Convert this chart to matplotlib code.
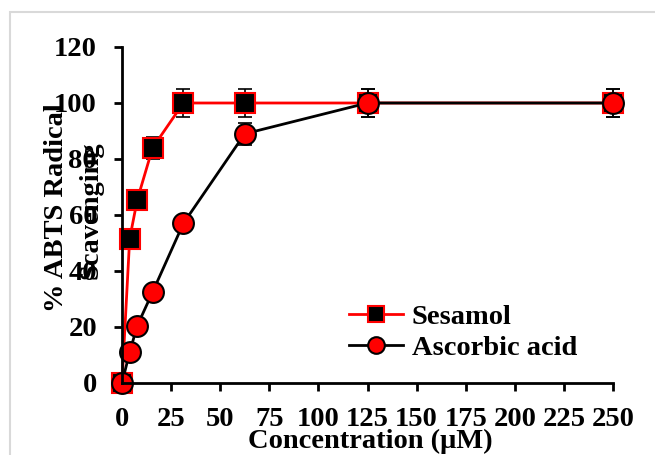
import numpy as np
import matplotlib.pyplot as plt
from matplotlib.patches import Rectangle

plt.rcParams['font.family'] = ['Liberation Serif', 'DejaVu Serif']
plt.rcParams['font.weight'] = 'bold'

conc = [0, 3.9, 7.8, 15.6, 31.25, 62.5, 125, 250]
sesamol = [0, 51.5, 65.5, 84, 100, 100, 100, 100]
sesamol_err = [0, 1, 1, 4, 5, 5, 5, 5]
ascorbic = [0, 11, 20.5, 32.5, 57, 89, 100, 100]
ascorbic_err = [0, 1, 1, 1, 1, 4, 5, 5]
xticks = [0, 25, 50, 75, 100, 125, 150, 175, 200, 225, 250]
yticks = [0, 20, 40, 60, 80, 100, 120]
fs = 20.5

fig = plt.figure(figsize=(6.55, 4.55), dpi=100)
fig.patches.append(Rectangle((10 / 655, -0.1), 1.2, 1 - 12 / 455 + 0.1,
                             transform=fig.transFigure, fill=False,
                             edgecolor='#d9d9d9', lw=1.5))
ax = fig.add_axes([122 / 655, 1 - 383 / 455, (613 - 122) / 655, (383 - 47) / 455])

# error bars first, then lines with markers on top
ax.errorbar(conc, sesamol, yerr=sesamol_err, fmt='none', ecolor='black',
            elinewidth=1.2, capsize=5, capthick=1.2, clip_on=False)
ax.plot(conc, sesamol, color='red', lw=2, marker='s', ms=14, mfc='black',
        mec='red', mew=1.5, label='Sesamol', clip_on=False)
ax.errorbar(conc, ascorbic, yerr=ascorbic_err, fmt='none', ecolor='black',
            elinewidth=1.2, capsize=5, capthick=1.2, clip_on=False)
ax.plot(conc, ascorbic, color='black', lw=2, marker='o', ms=15, mfc='red',
        mec='black', mew=1.5, label='Ascorbic acid', clip_on=False)

ax.set_xlim(0, 250)
ax.set_ylim(0, 120)
ax.set_xticks(xticks)
ax.set_yticks(yticks)
ax.spines['top'].set_visible(False)
ax.spines['right'].set_visible(False)
for s in ['left', 'bottom']:
    ax.spines[s].set_linewidth(2)
ax.tick_params(direction='out', length=6, width=2, labelsize=fs)
ax.tick_params(axis='x', pad=11)
ax.tick_params(axis='y', pad=12)
for lab in ax.get_xticklabels() + ax.get_yticklabels():
    lab.set_fontweight('bold')

fig.text(370 / 655, 1 - 429 / 455, 'Concentration (\u03bcM)',
         ha='center', va='top', fontsize=fs, fontweight='bold')
fig.text(57 / 655, 1 - 208 / 455, '% ABTS Radical', rotation=90, ha='center',
         va='center', fontsize=fs, fontweight='bold')
fig.text(91 / 655, 1 - 210 / 455, 'Scavenging', rotation=90, ha='center',
         va='center', fontsize=fs, fontweight='bold')

ax.legend(loc='center left', bbox_to_anchor=(0.41, 0.15), frameon=False,
          handlelength=1.9, handletextpad=0.3, labelspacing=0.15,
          markerscale=0.8, prop={'weight': 'bold', 'size': fs})

fig.savefig('out.png', dpi=100)
